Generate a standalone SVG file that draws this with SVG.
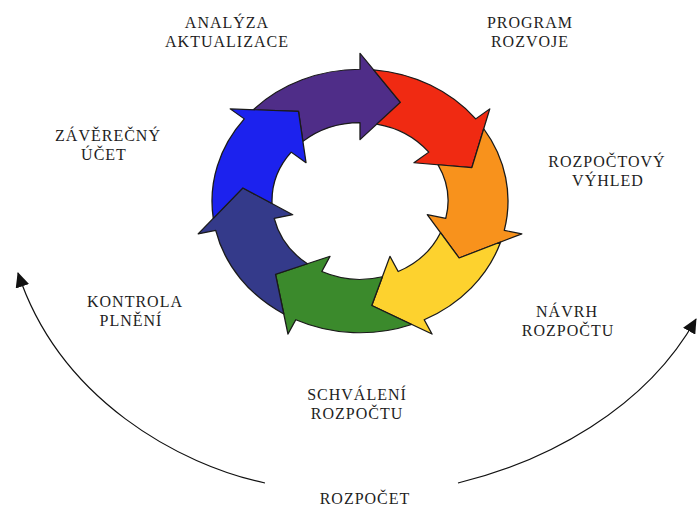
<svg xmlns="http://www.w3.org/2000/svg" xmlns:xlink="http://www.w3.org/1999/xlink" width="697" height="510" viewBox="0 0 697 510">
  <style>
    .lbl { font-family: "Liberation Serif", "Times New Roman", serif; font-size: 16px; letter-spacing: 1px; fill: #1e1e1e; text-anchor: middle; }
    .seg { stroke: #1a1a1a; stroke-width: 1.3; stroke-linejoin: round; vector-effect: non-scaling-stroke; }
    .conn { fill: none; stroke: #111; stroke-width: 1.2; }
  </style>
  <defs>
    <path id="arrowSeg" d="M102.55,-106.71 A148,148 0 0 1 148,0 L166,0 L110.88,40.36 L69,0 L88,0 A88,88 0 0 0 66.97,-57.09 L100.69,-61.53 Z"/>
    <marker id="head" markerUnits="userSpaceOnUse" markerWidth="15" markerHeight="14" viewBox="0 0 15 14" refX="14" refY="7" orient="auto">
      <path d="M0,0 L15,7 L0,14 Z" fill="#111"/>
    </marker>
  </defs>
  <rect width="697" height="510" fill="#ffffff"/>

  <g id="cycle" transform="translate(360,201) scale(1,0.89)">
    <g id="arrow-purple"><use xlink:href="#arrowSeg" href="#arrowSeg" class="seg" fill="#4f2d88" transform="rotate(-90)"/></g>
    <g id="arrow-red"><use xlink:href="#arrowSeg" href="#arrowSeg" class="seg" fill="#f02a12" transform="rotate(-38.57)"/></g>
    <g id="arrow-orange"><use xlink:href="#arrowSeg" href="#arrowSeg" class="seg" fill="#f8921c" transform="rotate(12.86)"/></g>
    <g id="arrow-yellow"><use xlink:href="#arrowSeg" href="#arrowSeg" class="seg" fill="#fdd22e" transform="rotate(64.29)"/></g>
    <g id="arrow-green"><use xlink:href="#arrowSeg" href="#arrowSeg" class="seg" fill="#3b8a2c" transform="rotate(115.71)"/></g>
    <g id="arrow-navy"><use xlink:href="#arrowSeg" href="#arrowSeg" class="seg" fill="#343a8a" transform="rotate(167.14)"/></g>
    <g id="arrow-blue"><use xlink:href="#arrowSeg" href="#arrowSeg" class="seg" fill="#1c22ee" transform="rotate(218.57)"/></g>
  </g>

  <g id="connectors">
    <path class="conn" d="M265,483 C180,465 60,400 18,273" marker-end="url(#head)"/>
    <path class="conn" d="M458,483 C545,462 645,410 696,319" marker-end="url(#head)"/>
  </g>

  <g id="label-analyza"><text class="lbl" x="227" y="28">ANALÝZA</text><text class="lbl" x="227" y="47">AKTUALIZACE</text></g>
  <g id="label-program"><text class="lbl" x="530" y="28">PROGRAM</text><text class="lbl" x="530" y="47">ROZVOJE</text></g>
  <g id="label-vyhled"><text class="lbl" x="607" y="167">ROZPOČTOVÝ</text><text class="lbl" x="608" y="186">VÝHLED</text></g>
  <g id="label-navrh"><text class="lbl" x="567" y="317">NÁVRH</text><text class="lbl" x="568" y="336">ROZPOČTU</text></g>
  <g id="label-schvaleni"><text class="lbl" x="357" y="400">SCHVÁLENÍ</text><text class="lbl" x="357" y="419">ROZPOČTU</text></g>
  <g id="label-kontrola"><text class="lbl" x="135" y="307">KONTROLA</text><text class="lbl" x="131" y="326">PLNĚNÍ</text></g>
  <g id="label-zaverecny"><text class="lbl" x="108" y="141">ZÁVĚREČNÝ</text><text class="lbl" x="104" y="160">ÚČET</text></g>
  <g id="label-rozpocet"><text class="lbl" x="365" y="504">ROZPOČET</text></g>
</svg>
